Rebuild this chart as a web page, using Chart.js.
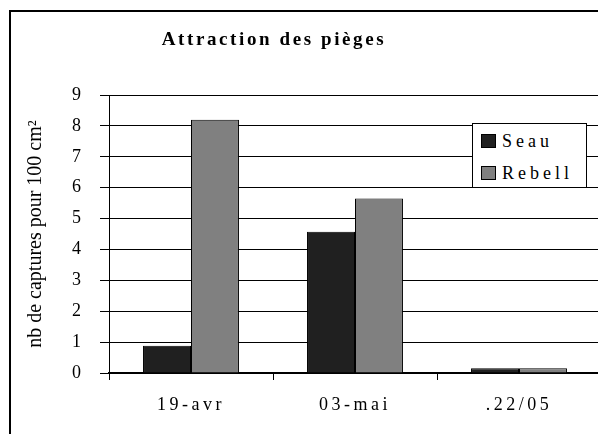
<!DOCTYPE html>
<html>
<head>
<meta charset="utf-8">
<script src="https://cdn.jsdelivr.net/npm/chart.js@4.4.0/dist/chart.umd.min.js"></script>
<style>
  body { margin: 0; background: #fff; overflow: hidden; }
  #wrap { position: relative; width: 598px; height: 434px; overflow: hidden; }
  #frame { position: absolute; left: 9px; top: 10px; width: 700px; height: 500px;
           border-left: 2px solid #000; border-top: 2px solid #000; }
  #chart { position: absolute; left: 0; top: 0; }
  #title { position: absolute; left: 0; width: 548px; top: 28px; text-align: center;
           font: bold 19px "Liberation Serif"; letter-spacing: 2.6px; color: #000; }
  #legend { position: absolute; left: 472px; top: 123px; width: 115px; height: 65px;
            background: #fff; border: 1px solid #000; box-sizing: border-box;
            font: 18px "Liberation Serif"; letter-spacing: 4px; color: #000; }
  .item { position: absolute; left: 8px; height: 20px; line-height: 20px; white-space: nowrap; }
  .box { display: inline-block; width: 13px; height: 12px; border: 1px solid #000;
         margin-right: 6px; vertical-align: -1px; }
</style>
</head>
<body>
<div id="wrap">
  <div id="frame"></div>
  <canvas id="chart" width="620" height="434"></canvas>
  <div id="title">Attraction des pièges</div>
  <div id="legend"></div>
</div>
<script>
  // data
  var categories = ['19-avr', '03-mai', '.22/05'];
  var seau = [0.88, 4.57, 0.15];
  var rebell = [8.2, 5.65, 0.15];
  var seriesNames = ['Seau', 'Rebell'];
  var yMin = 0, yMax = 9, yStep = 1;
  var yTitle = 'nb de captures pour 100 cm²';

  var serif = 'Liberation Serif';

  // spaced-out category labels like the original
  var spacedLabels = {
    id: 'spacedLabels',
    beforeDraw: function(chart) {
      var sx = chart.scales.x;
      if (sx._spaced) return;
      var orig = sx.drawLabels;
      sx.drawLabels = function(area) {
        var c = this.ctx;
        c.save();
        c.letterSpacing = '3.5px';
        orig.call(this, area);
        c.restore();
      };
      sx._spaced = true;
    }
  };

  var ctx = document.getElementById('chart').getContext('2d');
  var chart = new Chart(ctx, {
    type: 'bar',
    data: {
      labels: categories,
      datasets: [{
        label: seriesNames[0],
        data: seau,
        backgroundColor: '#202020',
        borderColor: '#000',
        borderWidth: 1
      }, {
        label: seriesNames[1],
        data: rebell,
        backgroundColor: '#808080',
        borderColor: '#000',
        borderWidth: 1
      }]
    },
    options: {
      responsive: false,
      animation: false,
      devicePixelRatio: 1,
      layout: { padding: { left: 0, right: 19, top: 95, bottom: 0 } },
      datasets: { bar: { categoryPercentage: 0.585, barPercentage: 1 } },
      plugins: {
        legend: { display: false },
        title: { display: false },
        tooltip: { enabled: false }
      },
      scales: {
        x: {
          grid: { display: true, drawOnChartArea: false, drawTicks: true, tickLength: 7,
                  offset: true, color: '#000', lineWidth: 1 },
          border: { display: true, color: '#000', width: 2 },
          ticks: { color: '#000', font: { family: serif, size: 18 }, padding: 14, maxRotation: 0 },
          afterFit: function(s) { s.height = 61; }
        },
        y: {
          min: yMin,
          max: yMax,
          ticks: { stepSize: yStep, color: '#000', font: { family: serif, size: 18 }, padding: 19 },
          grid: { color: '#000', lineWidth: 1, drawTicks: true, tickLength: 9 },
          border: { display: true, color: '#000', width: 1 },
          title: { display: true, text: yTitle, color: '#000',
                   font: { family: serif, size: 20, weight: 'normal' }, padding: { top: 24, bottom: 0 } },
          afterFit: function(s) { s.width = 109; }
        }
      }
    },
    plugins: [spacedLabels]
  });

  // legend as a small framed box over the plot
  var legend = document.getElementById('legend');
  chart.data.datasets.forEach(function(ds, i) {
    var it = document.createElement('div');
    it.className = 'item';
    it.style.top = (7 + i * 32) + 'px';
    var b = document.createElement('span');
    b.className = 'box';
    b.style.background = ds.backgroundColor;
    it.appendChild(b);
    it.appendChild(document.createTextNode(ds.label));
    legend.appendChild(it);
  });
</script>
</body>
</html>
